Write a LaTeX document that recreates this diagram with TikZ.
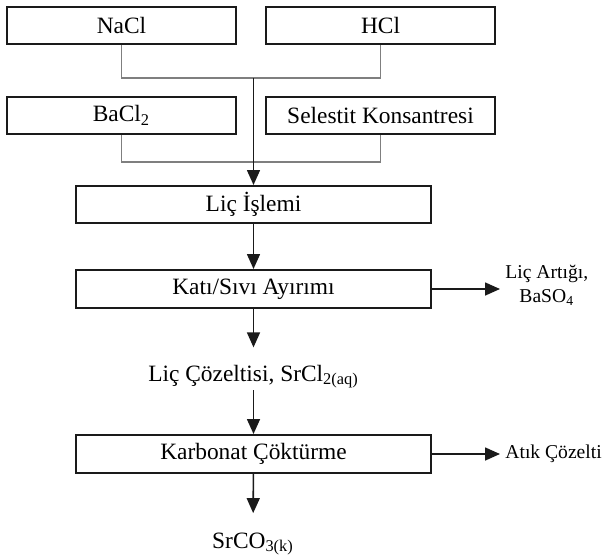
\documentclass[tikz,border=0pt]{standalone}
\definecolor{offblack}{HTML}{1a1a1a}
\definecolor{feedgray}{HTML}{7f7f7f}
\usepackage{fontspec}
\setmainfont{Liberation Serif}
\usepackage{tikz}
\usetikzlibrary{arrows.meta}
\usetikzlibrary{positioning}

\newcommand{\flowfont}{\fontsize{11.7}{14}\selectfont}
\newcommand{\sidefont}{\fontsize{9.8}{12}\selectfont}

\begin{document}
\begin{tikzpicture}[
    box/.style={draw=offblack, line width=1pt, inner sep=2pt,
      minimum height=18.5pt, font=\flowfont},
    feedbox/.style={box, minimum width=114.5pt},
    stagebox/.style={box, minimum width=177.5pt},
    product/.style={anchor=base, inner sep=0pt, font=\flowfont},
    side/.style={anchor=west, inner sep=0pt, align=center, font=\sidefont},
    feed/.style={feedgray, line width=0.6pt},
    flow/.style={offblack, line width=0.8pt,
      -{Triangle[length=7.5pt, width=6.5pt]}}]
        \useasboundingbox (0,0) rectangle (302pt,-278pt);

        % raw materials
        \node [feedbox] at (60.75pt,-12.75pt) (nacl) {NaCl};
        \node [feedbox, right=14pt of nacl] (hcl) {HCl};
        \node [feedbox, below=25.5pt of nacl] (bacl) {BaCl\textsubscript{2}};
        \node [feedbox, right=14pt of bacl] (selestit) {Selestit Konsantresi};

        \coordinate (m1) at (126.75pt,-39pt);
        \coordinate (m2) at (126.75pt,-81pt);

        % process steps
        \node [stagebox] at (126.75pt,-102.25pt) (lic) {Liç İşlemi};
        \node [stagebox, minimum height=19pt, below=22.5pt of lic]
            (kati) {Katı/Sıvı Ayırımı};
        \node [product] at (126.75pt,-190.5pt)
            (cozelti) {Liç Çözeltisi, SrCl\textsubscript{2(aq)}};
        \node [stagebox, minimum height=19pt] at (126.75pt,-227pt)
            (karbonat) {Karbonat Çöktürme};
        \node [product] at (126.5pt,-274pt)
            (srco) {SrCO\textsubscript{3(k)}};

        % outputs on the right
        \node [side] at (252.5pt,-142.5pt)
            (residue) {Liç Artığı,\\BaSO\textsubscript{4}};
        \node [side] at (252.5pt,-227pt) (waste) {Atık Çözelti};

        \draw [feed] (nacl.south) |- (m1) -| (hcl.south);
        \draw [feed] (bacl.south) |- (m2) -| (selestit.south);
        \draw [flow] (m1) -- (lic.north);

        \draw [flow] (lic) -- (kati);
        \draw [flow, shorten >=2.5pt] (kati.east) -- (kati.east -| residue.west);
        \draw [flow, shorten >=8.5pt] (kati) -- (cozelti);
        \draw [flow, shorten <=1pt] (cozelti) -- (karbonat);
        \draw [flow, shorten >=2.5pt] (karbonat.east) -- (waste.west);
        \draw [flow, shorten >=9.5pt] (karbonat) -- (srco);
\end{tikzpicture}
\end{document}
